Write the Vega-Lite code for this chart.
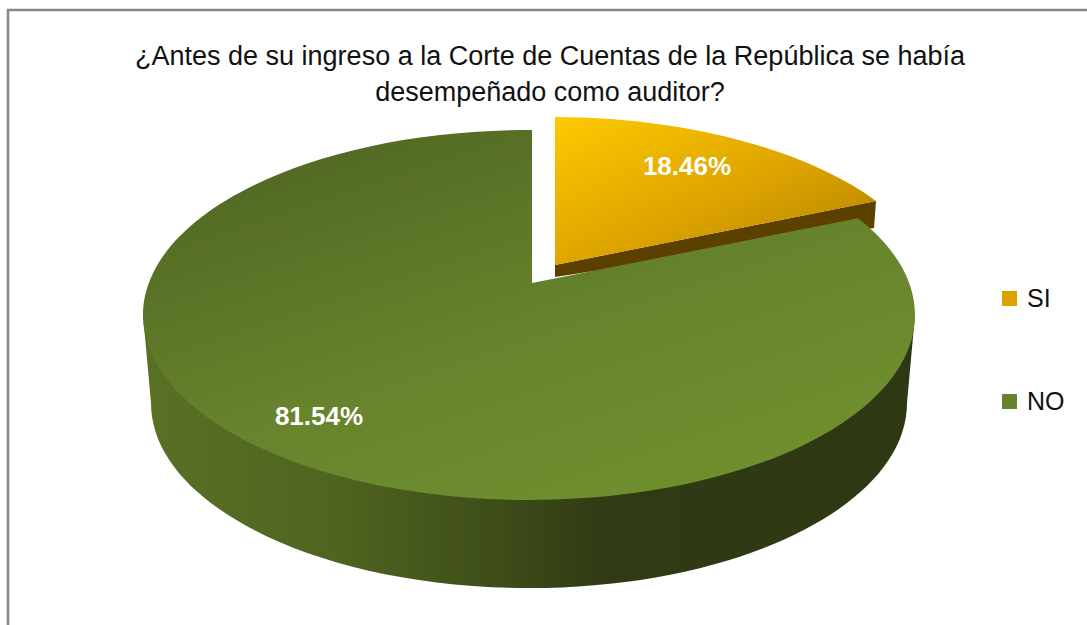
{
  "$schema": "https://vega.github.io/schema/vega-lite/v6.json",
  "description": "Tilted, exploded pie of answers to a yes/no survey question. Wedges are drawn as custom symbol outlines around the plot centre, so the pie can be elliptical.",
  "width": 1084,
  "height": 620,
  "autosize": {"type": "none"},
  "padding": {"left": 8, "top": 10, "right": 0, "bottom": 0},
  "background": "white",
  "view": {"stroke": "#868686", "strokeWidth": 2.5, "fill": "white"},
  "title": {
    "text": ["¿Antes de su ingreso a la Corte de Cuentas de la República se había", "desempeñado como auditor?"],
    "font": "Liberation Sans",
    "fontSize": 27,
    "fontWeight": "normal",
    "color": "#111111",
    "lineHeight": 36,
    "anchor": "middle",
    "orient": "top",
    "offset": -97
  },
  "data": {"values": [
    {"answer": "SI", "share": 0.1846},
    {"answer": "NO", "share": 0.8154}
  ]},
  "encoding": {
    "x": {"datum": 0, "type": "quantitative", "scale": {"domain": [-1, 1]}, "axis": null},
    "y": {"datum": 0, "type": "quantitative", "scale": {"domain": [-1, 1]}, "axis": null}
  },
  "layer": [
    {
      "transform": [{"filter": "datum.answer === 'NO'"}],
      "mark": {
        "type": "point", "filled": true, "opacity": 1, "size": 4, "stroke": null,
        "shape": "M-407,-5 L-399,83 A378,185 0 0 0 357,83 L365,-5 Z",
        "fill": {
          "gradient": "linear", "x1": 0, "y1": 0, "x2": 1, "y2": 0,
          "stops": [
            {"offset": 0, "color": "#5a7026"},
            {"offset": 0.25, "color": "#4f641f"},
            {"offset": 0.45, "color": "#3f4e19"},
            {"offset": 0.6, "color": "#303a14"},
            {"offset": 1, "color": "#2e3813"}
          ]
        }
      }
    },
    {
      "transform": [{"filter": "datum.answer === 'SI'"}],
      "mark": {
        "type": "point", "filled": true, "opacity": 1, "size": 4, "stroke": null,
        "shape": "M5,-55 L326,-119 L324,-92 L5,-43 Z",
        "fill": "#5c4000"
      }
    },
    {
      "transform": [{"filter": "datum.answer === 'SI'"}],
      "mark": {
        "type": "point", "filled": true, "opacity": 1, "size": 4, "stroke": null,
        "shape": "M5,-203 A386,185 0 0 1 326,-119 L5,-55 Z",
        "fill": {"gradient": "linear", "x1": 0, "y1": 0, "x2": 1, "y2": 1,
          "stops": [{"offset": 0, "color": "#fdca00"}, {"offset": 0.55, "color": "#dca200"}, {"offset": 1, "color": "#ad8000"}]}
      }
    },
    {
      "transform": [{"filter": "datum.answer === 'NO'"}],
      "mark": {
        "type": "point", "filled": true, "opacity": 1, "size": 4, "stroke": null,
        "shape": "M-18,-37 L-18,-189.99 A386,185 0 1 0 308,-101.75 Z",
        "fill": {"gradient": "linear", "x1": 0.1, "y1": 0, "x2": 0.8, "y2": 1,
          "stops": [{"offset": 0, "color": "#4f6422"}, {"offset": 0.55, "color": "#67832c"}, {"offset": 1, "color": "#70912f"}]}
      }
    },
    {
      "mark": {"type": "point", "filled": true, "opacity": 1, "size": 0, "stroke": null},
      "encoding": {
        "color": {
          "field": "answer", "type": "nominal",
          "scale": {"domain": ["SI", "NO"], "range": ["#dca200", "#67832c"]},
          "legend": {
            "title": null, "orient": "none", "legendX": 989, "legendY": 276,
            "symbolType": "square", "symbolSize": 225, "symbolStrokeWidth": 0,
            "labelFont": "Liberation Sans", "labelFontSize": 25, "labelColor": "#111111",
            "labelOffset": 5, "rowPadding": 77, "padding": 0,
            "encoding": {
              "symbols": {
                "fill": {"signal": "datum.label === 'SI' ? {gradient: 'linear', x1: 0, y1: 0, x2: 1, y2: 1, stops: [{offset: 0, color: '#fdca00'}, {offset: 0.5, color: '#dca200'}, {offset: 1, color: '#a07600'}]} : {gradient: 'linear', x1: 0.1, y1: 0, x2: 0.8, y2: 1, stops: [{offset: 0, color: '#4f6422'}, {offset: 1, color: '#70912f'}]}"}
              }
            }
          }
        }
      }
    },
    {
      "transform": [{"filter": "datum.answer === 'SI'"}],
      "mark": {"type": "text", "font": "Liberation Sans", "fontSize": 26, "fontWeight": "bold", "color": "white", "dx": 137, "dy": -153, "baseline": "middle", "align": "center"},
      "encoding": {"text": {"field": "share", "type": "quantitative", "format": ".2%"}}
    },
    {
      "transform": [{"filter": "datum.answer === 'NO'"}],
      "mark": {"type": "text", "font": "Liberation Sans", "fontSize": 26, "fontWeight": "bold", "color": "white", "dx": -231, "dy": 97, "baseline": "middle", "align": "center"},
      "encoding": {"text": {"field": "share", "type": "quantitative", "format": ".2%"}}
    }
  ]
}
